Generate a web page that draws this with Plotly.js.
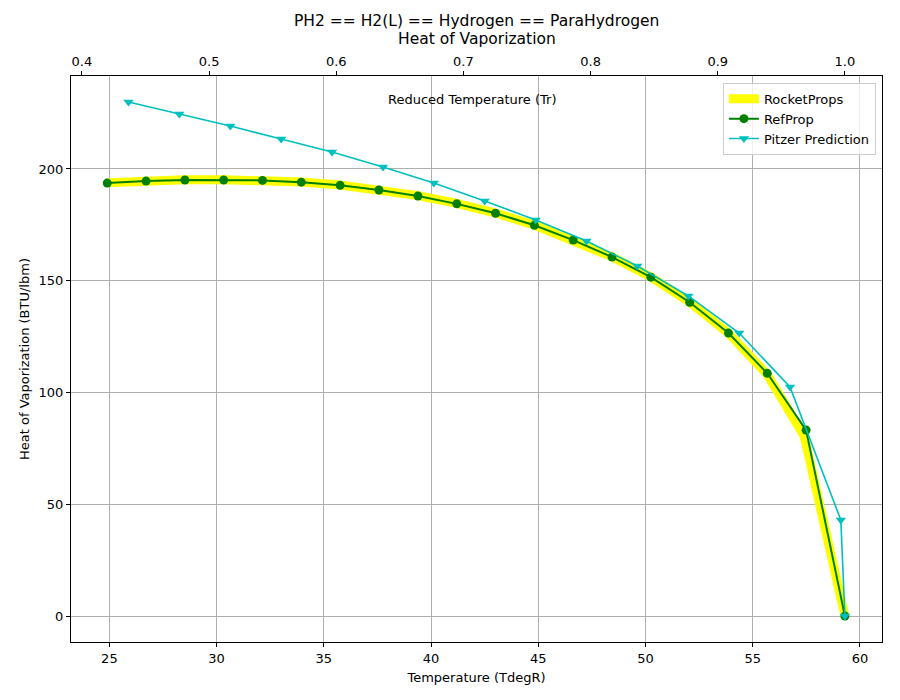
<!DOCTYPE html>
<html>
<head>
<meta charset="utf-8">
<script src="https://cdn.plot.ly/plotly-3.0.1.min.js"></script>
<style>body{margin:0;padding:0;background:#fff;} #chart{width:900px;height:700px;}</style>
</head>
<body>
<div id="chart"></div>
<script>
// Data
const tempRef = [24.9, 26.71, 28.52, 30.33, 32.14, 33.95, 35.76, 37.57, 39.39, 41.2, 43.01, 44.82, 46.63, 48.44, 50.25, 52.06, 53.87, 55.68, 57.49, 59.3];
const hvapRef = [193.7, 194.6, 195.1, 195.1, 194.9, 194.1, 192.7, 190.6, 187.9, 184.4, 180.2, 174.8, 168.2, 160.6, 151.6, 140.4, 126.6, 108.6, 83.2, 0.0];

const tempRocket = [24.9, 26.71, 28.52, 30.33, 32.14, 33.95, 35.76, 37.57, 39.39, 41.2, 43.01, 44.82, 46.63, 48.44, 50.25, 52.06, 53.87, 55.68, 57.4, 59.3];
const hvapRocket = [193.9, 194.8, 195.2, 195.2, 195.0, 194.2, 192.8, 190.8, 188.1, 184.6, 180.3, 174.9, 168.3, 160.7, 151.7, 140.4, 126.5, 108.0, 80.5, 0.0];

const tempPitzer = [25.89, 28.26, 30.64, 33.01, 35.38, 37.76, 40.13, 42.5, 44.88, 47.25, 49.62, 52.0, 54.37, 56.74, 59.11, 59.3];
const hvapPitzer = [230.0, 224.6, 219.2, 213.4, 207.6, 200.9, 193.7, 185.7, 177.2, 167.8, 156.6, 143.2, 126.6, 102.5, 43.0, 0.0];

const Tc = 59.3;
const trTickVals = [0.4, 0.5, 0.6, 0.7, 0.8, 0.9, 1.0];
const trTickText = ["0.4", "0.5", "0.6", "0.7", "0.8", "0.9", "1.0"];
const titleLines = ["PH2 == H2(L) == Hydrogen == ParaHydrogen", "Heat of Vaporization"];

const xRange = [23.21, 61.03];
const font = {family: "DejaVu Sans", size: 13, color: "#000"};
const titleFont = {family: "DejaVu Sans", size: 15.5, color: "#000"};

const traces = [
  {x: tempRocket, y: hvapRocket, name: "RocketProps", mode: "lines",
   line: {color: "#ffff00", width: 9}, type: "scatter"},
  {x: tempRef, y: hvapRef, name: "RefProp", mode: "lines+markers",
   line: {color: "#008000", width: 2}, marker: {color: "#008000", size: 9, symbol: "circle"}, type: "scatter"},
  {x: tempPitzer, y: hvapPitzer, name: "Pitzer Prediction", mode: "lines+markers",
   line: {color: "#00bfbf", width: 1.6}, marker: {color: "#00bfbf", size: 9, symbol: "triangle-down"}, type: "scatter"},
  {x: [xRange[0] / Tc, xRange[1] / Tc], y: [null, null], xaxis: "x2", yaxis: "y", showlegend: false,
   mode: "lines", hoverinfo: "skip", type: "scatter"}
];

const layout = {
  width: 900, height: 700,
  margin: {l: 71, r: 18, t: 76, b: 58},
  paper_bgcolor: "#fff", plot_bgcolor: "#fff",
  font: font,
  showlegend: true,
  xaxis: {range: xRange, tickvals: [25, 30, 35, 40, 45, 50, 55, 60],
          showgrid: true, gridcolor: "#b0b0b0", gridwidth: 1, zeroline: false,
          showline: true, linecolor: "#000", linewidth: 1, mirror: true,
          ticks: "outside", ticklen: 4, tickcolor: "#000",
          tickfont: font,
          title: {text: "Temperature (TdegR)", font: font, standoff: 8}},
  xaxis2: {range: [xRange[0] / Tc, xRange[1] / Tc], overlaying: "x", side: "top",
           tickvals: trTickVals, ticktext: trTickText,
           showgrid: false, zeroline: false, showline: true, linecolor: "#000",
           ticks: "outside", ticklen: 4, tickcolor: "#000", tickfont: font},
  yaxis: {range: [-11.6, 241.6], tickvals: [0, 50, 100, 150, 200],
          showgrid: true, gridcolor: "#b0b0b0", gridwidth: 1, zeroline: false,
          showline: true, linecolor: "#000", linewidth: 1, mirror: true,
          ticks: "outside", ticklen: 4, tickcolor: "#000", tickfont: font,
          title: {text: "Heat of Vaporization (BTU/lbm)", font: font, standoff: 6}},
  legend: {x: 0.9925, y: 0.988, xanchor: "right", yanchor: "top",
           bgcolor: "rgba(255,255,255,0.8)", bordercolor: "#cccccc", borderwidth: 1,
           font: font, tracegroupgap: 0},
  annotations: [
    {text: titleLines[0], xref: "paper", yref: "paper", x: 0.5, y: 1.0972,
     xanchor: "center", yanchor: "middle", showarrow: false, font: titleFont},
    {text: titleLines[1], xref: "paper", yref: "paper", x: 0.5, y: 1.0654,
     xanchor: "center", yanchor: "middle", showarrow: false, font: titleFont},
    {text: "Reduced Temperature (Tr)", xref: "paper", yref: "paper", x: 0.495, y: 0.958,
     xanchor: "center", yanchor: "middle", showarrow: false, font: font}
  ]
};

Plotly.newPlot("chart", traces, layout, {displayModeBar: false, staticPlot: true});
</script>
</body>
</html>
